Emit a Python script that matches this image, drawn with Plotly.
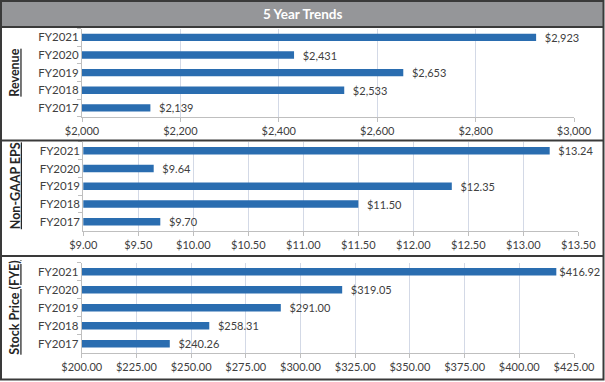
import plotly.graph_objects as go

W, H = 605, 382

years = ["FY2017", "FY2018", "FY2019", "FY2020", "FY2021"]
revenue = [2139, 2533, 2653, 2431, 2923]
eps = [9.70, 11.50, 12.35, 9.64, 13.24]
stock = [240.26, 258.31, 291.00, 319.05, 416.92]

panel_titles = ["Revenue", "Non-GAAP EPS", "Stock Price (FYE)"]
title_text = "5 Year Trends"

rev_ticks = [2000, 2200, 2400, 2600, 2800, 3000]
eps_ticks = [9.0, 9.5, 10.0, 10.5, 11.0, 11.5, 12.0, 12.5, 13.0, 13.5]
stock_ticks = [200, 225, 250, 275, 300, 325, 350, 375, 400, 425]

BAR = "#2a6db0"
GRID = "#d3d9e6"
AXIS = "#bfbfbf"
TXT = "#404040"
BORDER = "#3a3a3a"
FONT = "Lato"
FS = 11


def px_x(p):
    return p / W


def px_y(p):
    return 1 - p / H


fig = go.Figure()

PAD = "\u00a0\u00a0"
panels = [
    (revenue, rev_ticks, "$%{x:,.0f}", [f"${v:,.0f}" for v in rev_ticks], (82, 574), (28.6, 116.7)),
    (eps, eps_ticks, "$%{x:.2f}", [f"${v:.2f}" for v in eps_ticks], (83.3, 578.3), (141.8, 230.7)),
    (stock, stock_ticks, "$%{x:,.2f}", [f"${v:,.2f}" for v in stock_ticks], (81.7, 574), (262.7, 352.7)),
]

layout_axes = {}
for i, (vals, ticks, tmpl, ticktext, (xa, xb), (ya, yb)) in enumerate(panels):
    n = "" if i == 0 else str(i + 1)
    # labels that would run past the frame are pulled closer to the bar end
    tt = [(PAD if v < ticks[-1] - 0.05 * (ticks[-1] - ticks[0]) else "") + tmpl for v in vals]
    fig.add_trace(go.Bar(
        x=vals, y=years, orientation="h",
        marker=dict(color=BAR, line=dict(width=0)),
        width=0.42,
        texttemplate=tt,
        textposition="outside",
        textfont=dict(family=FONT, size=FS, color=TXT),
        constraintext="none",
        cliponaxis=False,
        xaxis="x" + n, yaxis="y" + n,
        hoverinfo="skip",
    ))
    layout_axes["xaxis" + n] = dict(
        domain=[px_x(xa), px_x(xb)], anchor="y" + n, automargin=False,
        range=[ticks[0], ticks[-1]], tickvals=ticks, ticktext=ticktext,
        showgrid=True, gridcolor=GRID, gridwidth=1,
        showline=True, linecolor=AXIS, linewidth=1,
        ticks="outside", ticklen=4, tickcolor=AXIS,
        tickfont=dict(family=FONT, size=FS, color=TXT),
        zeroline=False, fixedrange=True,
    )
    layout_axes["yaxis" + n] = dict(
        domain=[px_y(yb), px_y(ya)], anchor="x" + n, automargin=False,
        type="category", categoryorder="array", categoryarray=years,
        showline=True, linecolor=AXIS, linewidth=1,
        ticks="outside", ticklen=4, tickcolor=AXIS, tickson="boundaries",
        tickfont=dict(family=FONT, size=FS + 0.5, color=TXT),
        showgrid=False, zeroline=False, fixedrange=True,
    )
    fig.add_annotation(
        x=px_x(15), y=px_y((ya + yb) / 2), xref="paper", yref="paper",
        text="<b><u>" + panel_titles[i] + "</u></b>", textangle=-90,
        showarrow=False, font=dict(family=FONT, size=12.5, color="#262626"),
        xanchor="center", yanchor="middle",
    )

fig.update_layout(**layout_axes)

# title bar and borders
fig.add_shape(type="rect", xref="paper", yref="paper",
              x0=px_x(1), x1=px_x(603.5), y0=px_y(27), y1=px_y(1),
              fillcolor="#959699", line=dict(width=0), layer="below")
for yy in [27, 140.5, 256]:
    fig.add_shape(type="line", xref="paper", yref="paper",
                  x0=px_x(1), x1=px_x(603.5), y0=px_y(yy), y1=px_y(yy),
                  line=dict(color=BORDER, width=2))
fig.add_shape(type="rect", xref="paper", yref="paper",
              x0=px_x(1), x1=px_x(603.5), y0=px_y(379.5), y1=px_y(1),
              line=dict(color=BORDER, width=2))

fig.add_annotation(
    x=px_x(302.5), y=px_y(14), xref="paper", yref="paper",
    text="<b>" + title_text + "</b>", showarrow=False,
    font=dict(family=FONT, size=13.5, color="white"),
    xanchor="center", yanchor="middle",
)

fig.update_layout(
    template="none",
    width=W, height=H, margin=dict(l=0, r=0, t=0, b=0, autoexpand=False),
    paper_bgcolor="white", plot_bgcolor="white",
    showlegend=False, bargap=0.58,
)

fig.write_html("out.html", config={"displayModeBar": False},
               post_script="document.body.style.margin='0';document.body.style.padding='0';")
